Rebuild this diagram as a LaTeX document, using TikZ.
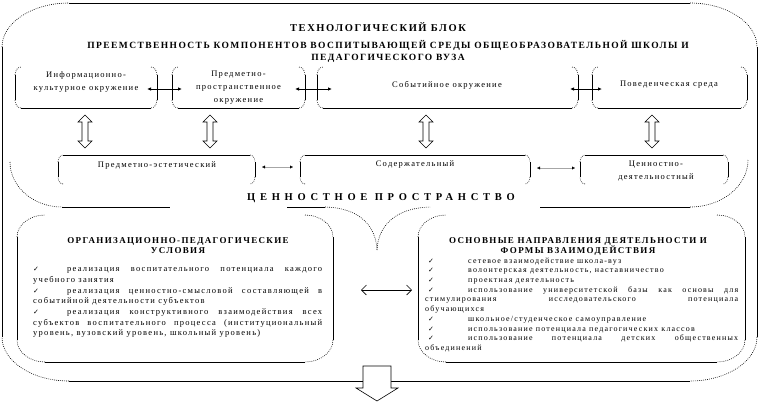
\documentclass[tikz,border=0pt]{standalone}
\usepackage{fontspec}
\setmainfont{Liberation Serif}[LetterSpace=15]
\newfontfamily\widefont{Liberation Serif}[LetterSpace=45]
\newfontfamily\chkfont{DejaVu Sans}
\usetikzlibrary{calc,arrows.meta}
\hyphenpenalty=10000
\newcommand{\ck}[1]{\makebox[#1][l]{\chkfont\fontsize{7}{7}\selectfont ✓}}
\newcommand{\frm}[5]{%
  \draw[edge] ($(#1.north west)+(0,#3)$) -- ($(#1.south west)+(0,-#3)$);
  \draw[edge] ($(#1.north east)+(0,#3)$) -- ($(#1.south east)+(0,-#3)$);
  \ifnum#4=1 \draw[edge] ($(#1.north west)+(#2,0)$) -- ($(#1.north east)+(-#2,0)$);\fi
  \ifnum#5=1 \draw[edge] ($(#1.south west)+(#2,0)$) -- ($(#1.south east)+(-#2,0)$);\fi
  \draw[corner] ($(#1.north west)+(0,#3)$) .. controls +(0,{-0.55*#3}) and +({-0.55*#2},0) .. ($(#1.north west)+(#2,0)$);
  \draw[corner] ($(#1.north east)+(-#2,0)$) .. controls +({0.55*#2},0) and +(0,{-0.55*#3}) .. ($(#1.north east)+(0,#3)$);
  \draw[corner] ($(#1.south east)+(0,-#3)$) .. controls +(0,{0.55*#3}) and +({0.55*#2},0) .. ($(#1.south east)+(-#2,0)$);
  \draw[corner] ($(#1.south west)+(#2,0)$) .. controls +({-0.55*#2},0) and +(0,{0.55*#3}) .. ($(#1.south west)+(0,-#3)$);
}
\newcommand{\udarr}[3]{%
  \path (#1,0) coordinate (ux);
  \path (ux |- #2.south) ++(0,7) coordinate (ua);
  \path (ux |- #3.north) ++(0,-7) coordinate (ub);
  \draw[blk] (ua) -- ($(ua)+(7,7)$) -- ($(ua)+(3,7)$) -- ($(ub)+(3,-7)$) -- ($(ub)+(7,-7)$) -- (ub) -- ($(ub)+(-7,-7)$) -- ($(ub)+(-3,-7)$) -- ($(ua)+(-3,7)$) -- ($(ua)+(-7,7)$) -- cycle;
}
\begin{document}
\begin{tikzpicture}[x=1pt,y=-1pt,
  box/.style={draw=none,inner sep=0pt,outer sep=0pt},
  edge/.style={line width=0.8pt},
  corner/.style={line width=0.6pt,dash pattern=on 0.8pt off 1.2pt},
  blk/.style={line width=0.6pt,fill=white},
  txt/.style={inner sep=0pt,align=center,font=\fontsize{8.5}{13}\selectfont},
  ttl/.style={inner sep=0pt,align=center,font=\fontsize{9}{10}\selectfont\bfseries},
  lr/.style={line width=0.8pt,{Latex[length=4pt,width=3.5pt]}-{Latex[length=4pt,width=3.5pt]}},
  sarr/.style={line width=0.15pt,draw=black!35,{Latex[length=3pt,width=3pt,color=black]}-{Latex[length=3pt,width=3pt,color=black]}},
  hol/.style={line width=0.6pt,{Straight Barb[length=5pt,width=10pt]}-{Straight Barb[length=5pt,width=10pt]}},
  listL/.style={anchor=north west,inner sep=0pt,text width=289pt,align=justify,font=\fontsize{8.5}{10.7}\selectfont},
  listR/.style={anchor=north west,inner sep=0pt,text width=313pt,align=justify,font=\fontsize{8}{9.7}\selectfont}]
\fill[white] (0,0) rectangle (760,402);
\useasboundingbox (0,0) rectangle (760,402);

% shapes (nodes)
\node[box,minimum width=755pt,minimum height=378pt] (outer) at (379.5,192) {};
\node[box,minimum width=142pt,minimum height=41pt] (t1) at (86,87.5) {};
\node[box,minimum width=133pt,minimum height=41pt] (t2) at (238.5,87.5) {};
\node[box,minimum width=261pt,minimum height=41pt] (t3) at (447.5,87.5) {};
\node[box,minimum width=155pt,minimum height=41pt] (t4) at (669.5,87.5) {};
\node[box,minimum width=197pt,minimum height=29pt] (A) at (156.5,169.5) {};
\node[box,minimum width=230pt,minimum height=29pt] (B) at (415,169.5) {};
\node[box,minimum width=148pt,minimum height=29pt] (C) at (654,169.5) {};
\node[box,minimum width=738pt,minimum height=94pt] (cp) at (379,160) {};
\node[box,minimum width=316pt,minimum height=147pt] (bl) at (175,288.5) {};
\node[box,minimum width=327pt,minimum height=147pt] (br) at (581.5,288.5) {};

% outlines
\frm{outer}{67}{44}{1}{1}
\frm{t1}{6}{8}{0}{1}
\frm{t2}{6}{8}{0}{1}
\frm{t3}{6}{8}{0}{1}
\frm{t4}{6}{8}{0}{1}
\frm{A}{5}{7}{1}{0}
\frm{B}{5}{7}{1}{0}
\frm{C}{5}{7}{1}{0}
\frm{bl}{28}{22}{0}{1}
\frm{br}{28}{22}{0}{1}

% value-space frame (bottom part) and brace
\draw[corner] ($(cp.south west)+(0,-45)$) .. controls +(0,{0.55*45}) and +({-0.55*52},0) .. ($(cp.south west)+(52,0)$);
\draw[edge] ($(cp.south west)+(52,0)$) -- ($(cp.south west)+(160,0)$);
\draw[edge] ($(cp.south east)+(-208,0)$) -- ($(cp.south east)+(-58,0)$);
\draw[corner] ($(cp.south east)+(-58,0)$) .. controls +({0.55*58},0) and +(0,{0.55*47}) .. ($(cp.south east)+(0,-47)$);
\coordinate (bA) at (287,207);
\coordinate (bB) at (325,207);
\coordinate (bT) at (377,250);
\coordinate (bC) at (430,207);
\draw[edge] (bA) -- (bB);
\draw[corner] (bB) .. controls (362,208) and (376,228) .. (bT);
\draw[corner] (bT) .. controls (378,228) and (393,208) .. (bC);

% texts
\node[inner sep=0pt,font=\fontsize{10.5}{12}\selectfont\bfseries] (title) at (378,27) {ТЕХНОЛОГИЧЕСКИЙ БЛОК};
\node[inner sep=0pt,align=center,font=\fontsize{9.5}{12}\selectfont\bfseries] (sub) at (388,51) {ПРЕЕМСТВЕННОСТЬ КОМПОНЕНТОВ ВОСПИТЫВАЮЩЕЙ СРЕДЫ ОБЩЕОБРАЗОВАТЕЛЬНОЙ ШКОЛЫ И\\ПЕДАГОГИЧЕСКОГО ВУЗА};
\node[txt] (t1x) at (86,81.5) {Информационно-\\культурное окружение};
\node[txt] (t2x) at (238.5,88) {Предметно-\\пространственное\\окружение};
\node[txt] (t3x) at (447,85) {Событийное окружение};
\node[txt] (t4x) at (669,85) {Поведенческая среда};
\node[txt] (Ax) at (157,165) {Предметно-эстетический};
\node[txt] (Bx) at (415,164) {Содержательный};
\node[txt] (Cx) at (656,171) {Ценностно-\\деятельностный};
\node[inner sep=0pt,font=\widefont\fontsize{10.5}{12}\selectfont\bfseries] (cpt) at (381,198) {ЦЕННОСТНОЕ ПРОСТРАНСТВО};
\node[ttl] (blh) at (178,246) {ОРГАНИЗАЦИОННО-ПЕДАГОГИЧЕСКИЕ\\УСЛОВИЯ};
\node[ttl] (brh) at (578,246) {ОСНОВНЫЕ НАПРАВЛЕНИЯ ДЕЯТЕЛЬНОСТИ И\\ФОРМЫ ВЗАИМОДЕЙСТВИЯ};
\node[listL] (blt) at (33,267) {\ck{34pt}реализация воспитательного потенциала каждого\linebreak учебного занятия\par\ck{34pt}реализация ценностно-смысловой составляющей в\linebreak событийной деятельности субъектов\par\ck{34pt}реализация конструктивного взаимодействия всех\linebreak субъектов воспитательного процесса (институциональный\linebreak уровень, вузовский уровень, школьный уровень)};
\node[listR] (brt) at (425,257.5) {\hspace*{3pt}\ck{40pt}сетевое взаимодействие школа-вуз\par\hspace*{3pt}\ck{40pt}волонтерская деятельность, наставничество\par\hspace*{3pt}\ck{40pt}проектная деятельность\par\hspace*{3pt}\ck{40pt}использование университетской базы как основы для\linebreak стимулирования исследовательского потенциала\linebreak обучающихся\par\hspace*{3pt}\ck{40pt}школьное/студенческое самоуправление\par\hspace*{3pt}\ck{40pt}использование потенциала педагогических классов\par\hspace*{3pt}\ck{40pt}использование потенциала детских общественных\linebreak объединений};

% connectors
\draw[lr] ([xshift=-10pt,yshift=-1.5pt]t1.east) -- ([xshift=10pt,yshift=-1.5pt]t2.west);
\draw[lr] ([xshift=-10pt,yshift=-1.5pt]t2.east) -- ([xshift=15pt,yshift=-1.5pt]t3.west);
\draw[lr] ([xshift=-8pt,yshift=-1.5pt]t3.east) -- ([xshift=10pt,yshift=-1.5pt]t4.west);
\udarr{85}{t1}{A}
\udarr{210}{t2}{A}
\udarr{426}{t3}{B}
\udarr{652}{t4}{C}
\draw[sarr] ([xshift=7pt,yshift=2.5pt]A.east) -- ([xshift=-7pt,yshift=2.5pt]B.west);
\draw[sarr] ([xshift=7pt,yshift=1.5pt]B.east) -- ([xshift=-5pt,yshift=1.5pt]C.west);
\draw[hol] ([xshift=28pt,yshift=-1.5pt]bl.east) -- ([xshift=-6pt,yshift=-1.5pt]br.west);
\path ([xshift=-2.5pt]outer.south) coordinate (dn);
\draw[blk] ($(dn)+(-14,-15)$) -- ($(dn)+(14,-15)$) -- ($(dn)+(14,7)$) -- ($(dn)+(21,7)$) -- ($(dn)+(0,20)$) -- ($(dn)+(-21,7)$) -- ($(dn)+(-14,7)$) -- cycle;
\end{tikzpicture}
\end{document}
